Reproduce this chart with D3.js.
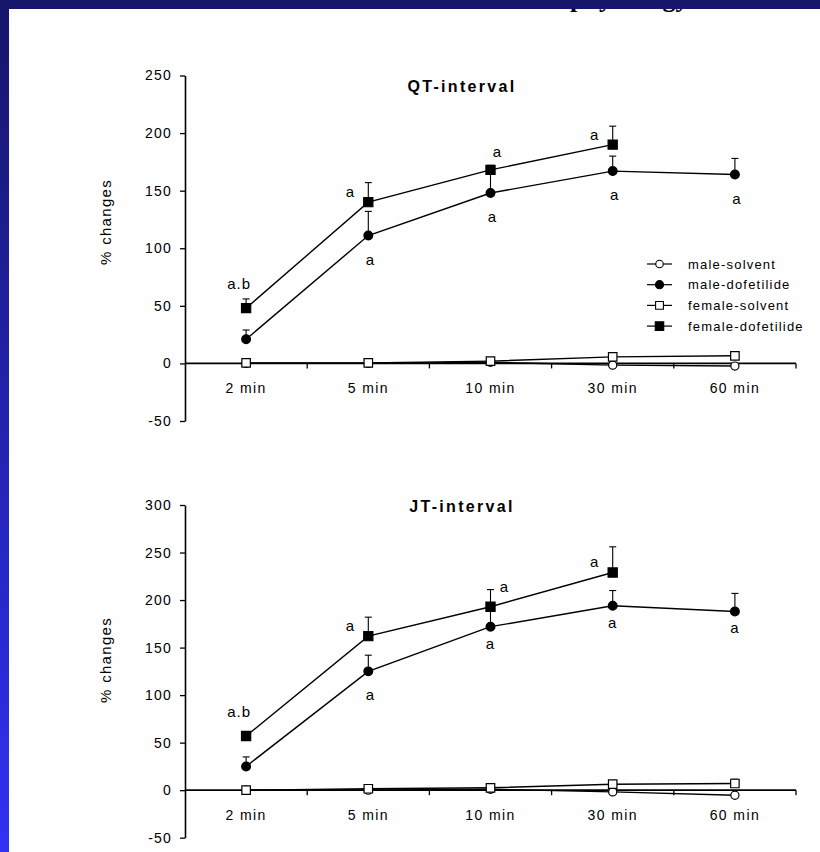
<!DOCTYPE html>
<html>
<head>
<meta charset="utf-8">
<script src="https://cdn.jsdelivr.net/npm/d3@7"></script>
<style>
  body { margin: 0; background: #fff; }
  text { font-family: "Liberation Sans", Arial, sans-serif; fill: #000; }
</style>
</head>
<body>
<div id="chart"></div>
<script>
// categories
const times = ["2 min", "5 min", "10 min", "30 min", "60 min"]
const seriesNames = ["male-solvent", "male-dofetilide", "female-solvent", "female-dofetilide"]

// QT-interval, % changes
const qtMaleSolvent = [0, 0, 1, -1.5, -2.3]
const qtMaleSolventErr = [0, 0, 0, 0, 0]
const qtMaleDofetilide = [21, 111, 148, 167, 164]
const qtMaleDofetilideErr = [8, 21, 20, 13, 14]
const qtFemaleSolvent = [0.5, 0.5, 2, 5.7, 6.6]
const qtFemaleSolventErr = [0, 0, 0, 0, 3]
const qtFemaleDofetilide = [48, 140, 168, 190, null]
const qtFemaleDofetilideErr = [8, 17, 4, 16, null]
const qtAnnotations = [
    { series: "female-dofetilide", t: 0, text: "a.b", place: "ab" },
    { series: "female-dofetilide", t: 1, text: "a", place: "left" },
    { series: "male-dofetilide", t: 1, text: "a", place: "below" },
    { series: "female-dofetilide", t: 2, text: "a", place: "above" },
    { series: "male-dofetilide", t: 2, text: "a", place: "below" },
    { series: "female-dofetilide", t: 3, text: "a", place: "left" },
    { series: "male-dofetilide", t: 3, text: "a", place: "below" },
    { series: "male-dofetilide", t: 4, text: "a", place: "below" },
]

// JT-interval, % changes
const jtMaleSolvent = [0, 0, 1, -1.8, -5.3]
const jtMaleSolventErr = [0, 0, 0, 0, 0]
const jtMaleDofetilide = [25, 125, 172, 194, 188]
const jtMaleDofetilideErr = [10, 17, 20, 16, 19]
const jtFemaleSolvent = [0, 1.5, 2.5, 6.3, 7]
const jtFemaleSolventErr = [0, 0, 0, 0, 4.5]
const jtFemaleDofetilide = [57, 162, 193, 229, null]
const jtFemaleDofetilideErr = [3, 20, 18, 27, null]
const jtAnnotations = [
    { series: "female-dofetilide", t: 0, text: "a.b", place: "ab" },
    { series: "female-dofetilide", t: 1, text: "a", place: "left" },
    { series: "male-dofetilide", t: 1, text: "a", place: "below" },
    { series: "female-dofetilide", t: 2, text: "a", place: "upright" },
    { series: "male-dofetilide", t: 2, text: "a", place: "belowClose" },
    { series: "female-dofetilide", t: 3, text: "a", place: "left" },
    { series: "male-dofetilide", t: 3, text: "a", place: "belowClose" },
    { series: "male-dofetilide", t: 4, text: "a", place: "belowClose" },
]

const qtTicks = [-50, 0, 50, 100, 150, 200, 250]
const jtTicks = [-50, 0, 50, 100, 150, 200, 250, 300]

// marker styles
const markerStyle = {
    "male-solvent": { shape: d3.symbolCircle, size: 52, fill: "#fff" },
    "male-dofetilide": { shape: d3.symbolCircle, size: 60, fill: "#000" },
    "female-solvent": { shape: d3.symbolSquare, size: 72, fill: "#fff" },
    "female-dofetilide": { shape: d3.symbolSquare, size: 84, fill: "#000" },
}
const placeOffset = {
    ab: [-7, -24],
    left: [-18, -10],
    below: [2, 24],
    belowClose: [0, 17],
    above: [7, -18],
    upright: [14, -20],
}

const svg = d3.select('#chart').append('svg')
    .attr('width', 820)
    .attr('height', 852)

svg.append('rect').attr('width', 820).attr('height', 852).attr('fill', '#fefefe')

// slide header: title text cut off by the dark bar
svg.append('text')
    .attr('x', 570).attr('y', 7)
    .style('font-family', '"Liberation Serif", "Times New Roman", serif')
    .style('font-weight', 'bold')
    .style('font-size', '26px')
    .text('physiology')

const grad = svg.append('defs').append('linearGradient')
    .attr('id', 'sideGrad').attr('x1', 0).attr('y1', 0).attr('x2', 0).attr('y2', 1)
grad.append('stop').attr('offset', '0%').attr('stop-color', '#15156a')
grad.append('stop').attr('offset', '100%').attr('stop-color', '#3131f4')

svg.append('rect').attr('x', 0).attr('y', 0).attr('width', 820).attr('height', 9).attr('fill', '#16166a')
svg.append('rect').attr('x', 0).attr('y', 0).attr('width', 9).attr('height', 852).attr('fill', 'url(#sideGrad)')

const panels = [
    {
        title: "QT-interval", titleY: 92, labelY: 222,
        yDomain: [-50, 250], yRange: [421, 75.5], ticks: qtTicks,
        values: {
            "male-solvent": [qtMaleSolvent, qtMaleSolventErr],
            "male-dofetilide": [qtMaleDofetilide, qtMaleDofetilideErr],
            "female-solvent": [qtFemaleSolvent, qtFemaleSolventErr],
            "female-dofetilide": [qtFemaleDofetilide, qtFemaleDofetilideErr],
        },
        annotations: qtAnnotations, legend: true,
    },
    {
        title: "JT-interval", titleY: 512, labelY: 660,
        yDomain: [-50, 300], yRange: [837.7, 505], ticks: jtTicks,
        values: {
            "male-solvent": [jtMaleSolvent, jtMaleSolventErr],
            "male-dofetilide": [jtMaleDofetilide, jtMaleDofetilideErr],
            "female-solvent": [jtFemaleSolvent, jtFemaleSolventErr],
            "female-dofetilide": [jtFemaleDofetilide, jtFemaleDofetilideErr],
        },
        annotations: jtAnnotations, legend: false,
    },
]

const x = d3.scaleBand().domain(times).range([185, 796]).padding(0)
const cx = (t) => x(t) + x.bandwidth() / 2

const drawPanel = (p) => {
    const g = svg.append('g')
    const y = d3.scaleLinear().domain(p.yDomain).range(p.yRange)

    // y axis (plain hyphen for negatives, like the original)
    const yAxis = g.append('g')
        .attr('transform', `translate(185,0)`)
        .call(d3.axisLeft(y).tickValues(p.ticks).tickFormat(d => String(d))
            .tickSize(5).tickSizeOuter(0).tickPadding(8))
    yAxis.select('.domain').attr('stroke', '#000').attr('stroke-width', 1.6)
    yAxis.selectAll('.tick line').attr('stroke', '#000').attr('stroke-width', 1.3)
    yAxis.selectAll('.tick text')
        .style('font-size', '14px')
        .style('letter-spacing', '1.2px')
        .attr('fill', '#000')

    // x axis along zero
    const y0 = y(0)
    g.append('line')
        .attr('x1', 185).attr('x2', 796)
        .attr('y1', y0).attr('y2', y0)
        .attr('stroke', '#000').attr('stroke-width', 1.6)
    const bounds = times.slice(1).map(t => x(t)).concat([x.range()[1]])
    g.selectAll('.xtick').data(bounds).enter().append('line')
        .attr('x1', d => d).attr('x2', d => d)
        .attr('y1', y0).attr('y2', y0 + 5)
        .attr('stroke', '#000').attr('stroke-width', 1.3)
    g.selectAll('.xlabel').data(times).enter().append('text')
        .attr('x', d => cx(d))
        .attr('y', y0 + 30)
        .attr('text-anchor', 'middle')
        .style('font-size', '14px')
        .style('letter-spacing', '1.4px')
        .text(d => d)

    // axis title
    g.append('text')
        .attr('transform', `translate(111,${p.labelY}) rotate(-90)`)
        .attr('text-anchor', 'middle')
        .style('font-size', '15px')
        .style('letter-spacing', '1.3px')
        .text('% changes')

    // panel title
    g.append('text')
        .attr('x', 462).attr('y', p.titleY)
        .attr('text-anchor', 'middle')
        .style('font-size', '16px')
        .style('font-weight', 'bold')
        .style('letter-spacing', '2.3px')
        .text(p.title)

    const line = d3.line()
        .defined(d => d.v != null)
        .x(d => cx(d.t))
        .y(d => y(d.v))

    const pts = {}
    seriesNames.forEach(s => {
        const [vals, errs] = p.values[s]
        pts[s] = times.map((t, i) => ({ t: t, v: vals[i], e: errs[i], s: s }))
    })

    // lines
    seriesNames.forEach(s => {
        g.append('path')
            .datum(pts[s])
            .attr('d', line)
            .attr('fill', 'none')
            .attr('stroke', '#000')
            .attr('stroke-width', 1.4)
    })

    // error bars (upper only)
    seriesNames.forEach(s => {
        const withErr = pts[s].filter(d => d.v != null && d.e > 0)
        g.selectAll(null).data(withErr).enter().append('line')
            .attr('x1', d => cx(d.t)).attr('x2', d => cx(d.t))
            .attr('y1', d => y(d.v)).attr('y2', d => y(d.v + d.e))
            .attr('stroke', '#000').attr('stroke-width', 1.1)
        g.selectAll(null).data(withErr).enter().append('line')
            .attr('x1', d => cx(d.t) - 3.5).attr('x2', d => cx(d.t) + 3.5)
            .attr('y1', d => y(d.v + d.e)).attr('y2', d => y(d.v + d.e))
            .attr('stroke', '#000').attr('stroke-width', 1.1)
    })

    // markers
    seriesNames.forEach(s => {
        const st = markerStyle[s]
        g.selectAll(null).data(pts[s].filter(d => d.v != null)).enter().append('path')
            .attr('d', d3.symbol(st.shape, st.size))
            .attr('transform', d => `translate(${cx(d.t)},${y(d.v)})`)
            .attr('fill', st.fill)
            .attr('stroke', '#000')
            .attr('stroke-width', 1.2)
    })

    // significance letters
    g.selectAll('.ann').data(p.annotations).enter().append('text')
        .attr('x', d => cx(times[d.t]) + placeOffset[d.place][0])
        .attr('y', d => y(p.values[d.series][0][d.t]) + placeOffset[d.place][1] + 5)
        .attr('text-anchor', 'middle')
        .style('font-size', '15px')
        .style('letter-spacing', '1px')
        .text(d => d.text)

    // legend
    if (p.legend) {
        const lg = g.append('g')
        seriesNames.forEach((s, i) => {
            const ly = 264 + i * 20.7
            const st = markerStyle[s]
            lg.append('line')
                .attr('x1', 647).attr('x2', 672)
                .attr('y1', ly).attr('y2', ly)
                .attr('stroke', '#000').attr('stroke-width', 1.2)
            lg.append('path')
                .attr('d', d3.symbol(st.shape, st.size * 0.85))
                .attr('transform', `translate(659.5,${ly})`)
                .attr('fill', st.fill)
                .attr('stroke', '#000')
                .attr('stroke-width', 1.1)
            lg.append('text')
                .attr('x', 688).attr('y', ly + 4.5)
                .style('font-size', '13px')
                .style('letter-spacing', '1.2px')
                .text(s)
        })
    }
}

panels.forEach(drawPanel)
</script>
</body>
</html>
